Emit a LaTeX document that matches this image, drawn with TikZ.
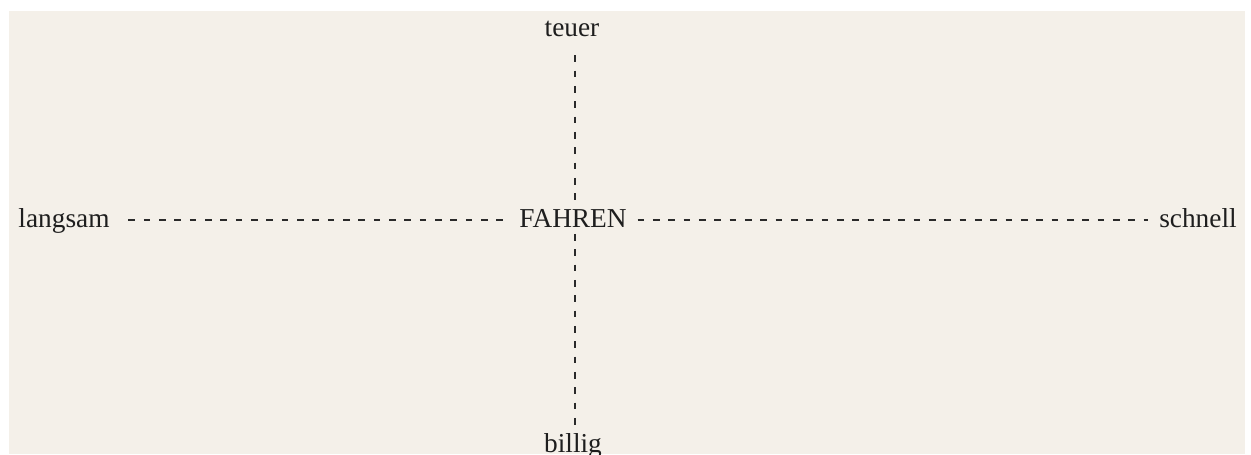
\documentclass[tikz,border=0pt]{standalone}
\usepackage{fontspec}
\setmainfont{Liberation Serif}
\definecolor{bgbeige}{HTML}{F4F0E9}
\definecolor{inkdark}{HTML}{1E1E1E}
\definecolor{dashgray}{HTML}{2A2A2A}
\begin{document}
\begin{tikzpicture}[x=0.75pt,y=-0.75pt,
  lbl/.style={font=\fontsize{20.5}{24}\selectfont, text=inkdark, inner xsep=8pt, inner ysep=5pt, anchor=base},
  axisline/.style={draw=dashgray, line width=1.5pt, dash pattern=on 5pt off 6.5pt}]
\useasboundingbox (0,0) rectangle (1251,454);
\fill[bgbeige] (9,11) rectangle (1245,454);
\begin{scope}
\clip (0,0) rectangle (1251,454);
\coordinate (axis) at (575,220);
\node[lbl] (center) at (573,227) {FAHREN};
\node[lbl] (left) at (64,227) {langsam};
\node[lbl] (right) at (1198,227) {schnell};
\node[lbl] (top) at (572,36) {teuer};
\node[lbl] (bottom) at (573,452) {billig};
\draw[axisline, shorten <=6pt] (left.east |- axis) -- (center.west |- axis);
\draw[axisline] (center.east |- axis) -- (right.west |- axis);
\draw[axisline, shorten <=9pt] (top.south -| axis) -- (center.north -| axis);
\draw[axisline] (center.south -| axis) -- (bottom.north -| axis);
\end{scope}
\end{tikzpicture}
\end{document}
